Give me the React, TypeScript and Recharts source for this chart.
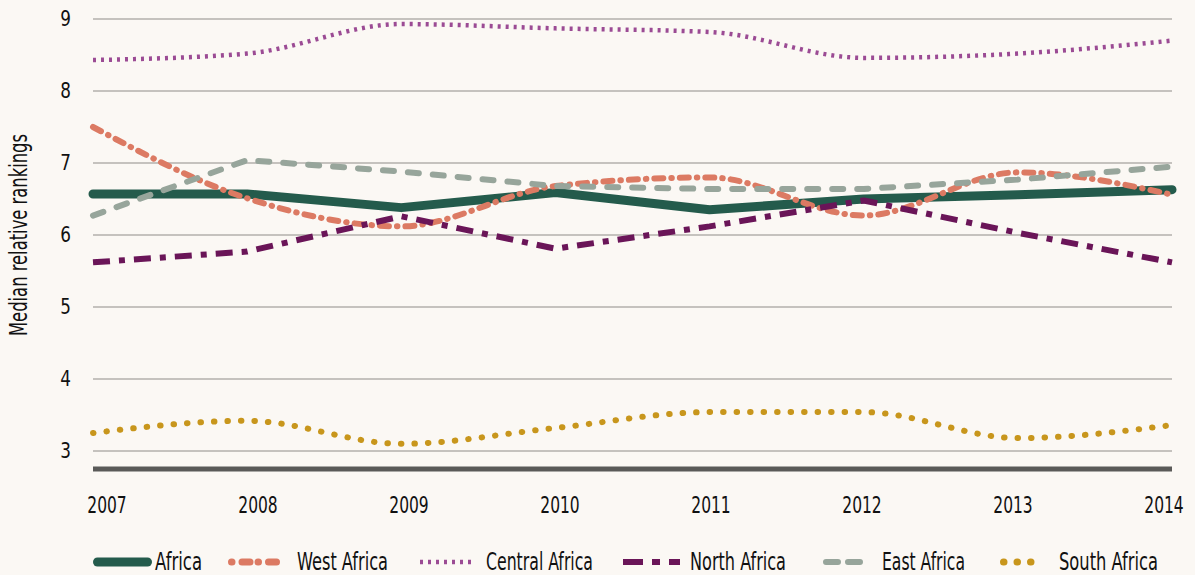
import React from 'react';
import { LineChart, Line, XAxis, YAxis, CartesianGrid, Legend } from 'recharts';

const years = ['2007', '2008', '2009', '2010', '2011', '2012', '2013', '2014'];
const africa = [6.57, 6.57, 6.38, 6.59, 6.35, 6.5, 6.56, 6.63];
const westAfrica = [7.5, 6.51, 6.12, 6.68, 6.8, 6.27, 6.87, 6.56];
const centralAfrica = [8.43, 8.52, 8.93, 8.87, 8.82, 8.46, 8.52, 8.7];
const northAfrica = [5.62, 5.77, 6.26, 5.81, 6.12, 6.48, 6.03, 5.62];
const eastAfrica = [6.27, 7.04, 6.88, 6.68, 6.64, 6.64, 6.77, 6.95];
const southAfrica = [3.25, 3.42, 3.1, 3.32, 3.54, 3.54, 3.18, 3.36];
const yTicks = [3, 4, 5, 6, 7, 8, 9];

const data = years.map((year, i) => ({
  year,
  africa: africa[i],
  west: westAfrica[i],
  central: centralAfrica[i],
  north: northAfrica[i],
  east: eastAfrica[i],
  south: southAfrica[i],
}));

const FONT = '"DejaVu Sans Condensed", "Liberation Sans Narrow", "Open Sans", sans-serif';

const series = [
  { key: 'africa', name: 'Africa', color: '#245b4c', width: 9, dash: undefined as string | undefined, cap: 'round' as const, type: 'linear' as const, lgDash: undefined as string | undefined, lgWidth: 9, lgCap: 'round' as const },
  { key: 'west', name: 'West Africa', color: '#dc7a63', width: 6, dash: '9 8 0.5 8', cap: 'round' as const, type: 'monotone' as const, lgDash: '0.5 10 8 8', lgWidth: 7, lgCap: 'round' as const },
  { key: 'central', name: 'Central Africa', color: '#9b4b94', width: 4.5, dash: '3 5', cap: 'butt' as const, type: 'monotone' as const, lgDash: '3 5', lgWidth: 4.5, lgCap: 'butt' as const },
  { key: 'north', name: 'North Africa', color: '#6a1558', width: 6, dash: '17 9 6 9', cap: 'butt' as const, type: 'linear' as const, lgDash: '20 9 8 9', lgWidth: 6, lgCap: 'butt' as const },
  { key: 'east', name: 'East Africa', color: '#97a59b', width: 6, dash: '11 14', cap: 'round' as const, type: 'linear' as const, lgDash: '12 10', lgWidth: 6, lgCap: 'round' as const },
  { key: 'south', name: 'South Africa', color: '#c8961c', width: 6, dash: '0.5 13', cap: 'round' as const, type: 'monotone' as const, lgDash: '0.5 13', lgWidth: 7, lgCap: 'round' as const },
];

// legend layout: icon start/end, text start, text width (px)
const legendLayout = [
  { i0: 93, i1: 152, t0: 155, tw: 47 },
  { i0: 228, i1: 285, t0: 297, tw: 91 },
  { i0: 420, i1: 471, t0: 486, tw: 107 },
  { i0: 623, i1: 680, t0: 690, tw: 96 },
  { i0: 823, i1: 867, t0: 882, tw: 83 },
  { i0: 1000, i1: 1047, t0: 1059, tw: 99 },
];

const renderLegend = () => (
  <svg width={1195} height={40} style={{ display: 'block' }}>
    {series.map((s, i) => {
      const l = legendLayout[i];
      const pad = s.lgCap === 'round' ? s.lgWidth / 2 : 0;
      return (
        <g key={s.key}>
          <line x1={l.i0 + pad} x2={l.i1 - pad} y1={27} y2={27} stroke={s.color} strokeWidth={s.lgWidth} strokeDasharray={s.lgDash} strokeLinecap={s.lgCap} />
          <text x={l.t0} y={35} fontFamily={FONT} fontSize={24} fill="#111" textLength={l.tw} lengthAdjust="spacingAndGlyphs">
            {s.name}
          </text>
        </g>
      );
    })}
  </svg>
);

const XTick = (props: any) => {
  const { x, y, payload, index } = props;
  const n = years.length - 1;
  const shift = 14 - (22 * index) / n;
  return (
    <g transform={`translate(${x + shift},${y + 44})`}>
      <text transform="scale(0.75,1)" textAnchor="middle" fontFamily={FONT} fontSize={23} fill="#111">
        {payload.value}
      </text>
    </g>
  );
};

const YTick = (props: any) => {
  const { x, y, payload } = props;
  return (
    <g transform={`translate(${x - 22},${y - 1 + 8})`}>
      <text transform="scale(0.85,1)" textAnchor="end" fontFamily={FONT} fontSize={22} fill="#111">
        {payload.value}
      </text>
    </g>
  );
};

const YLabel = (props: any) => {
  const vb = props.viewBox || { x: 0, y: 19, width: 93, height: 449 };
  const cx = vb.x + 27;
  const cy = vb.y + vb.height / 2 - 9;
  return (
    <text
      transform={`translate(${cx},${cy}) rotate(-90)`}
      textAnchor="middle"
      fontFamily={FONT}
      fontSize={24}
      fill="#111"
      textLength={202}
      lengthAdjust="spacingAndGlyphs"
    >
      Median relative rankings
    </text>
  );
};

export default function App() {
  return (
    <div style={{ position: 'absolute', left: 0, top: 0, width: 1195, height: 575, background: '#fbf8f4' }}>
      <LineChart width={1195} height={575} data={data} margin={{ top: 19, right: 23, left: 0, bottom: 9 }}>
        <CartesianGrid vertical={false} stroke="#b3b1ad" strokeWidth={1.5} />
        <XAxis
          dataKey="year"
          axisLine={{ stroke: '#5a5a58', strokeWidth: 5 }}
          tickLine={false}
          tickSize={0}
          tickMargin={0}
          height={57}
          interval={0}
          tick={<XTick />}
        />
        <YAxis
          domain={[2.75, 9]}
          ticks={yTicks}
          width={93}
          axisLine={false}
          tickLine={false}
          tickSize={0}
          tickMargin={0}
          allowDataOverflow
          tick={<YTick />}
          label={<YLabel />}
        />
        <Legend verticalAlign="bottom" content={renderLegend} wrapperStyle={{ left: 0, bottom: 0, width: 1195, height: 40 }} />
        {series.map((s) => (
          <Line
            key={s.key}
            dataKey={s.key}
            name={s.name}
            type={s.type}
            stroke={s.color}
            strokeWidth={s.width}
            strokeDasharray={s.dash}
            strokeLinecap={s.cap}
            strokeLinejoin="round"
            dot={false}
            activeDot={false}
            isAnimationActive={false}
          />
        ))}
      </LineChart>
    </div>
  );
}
